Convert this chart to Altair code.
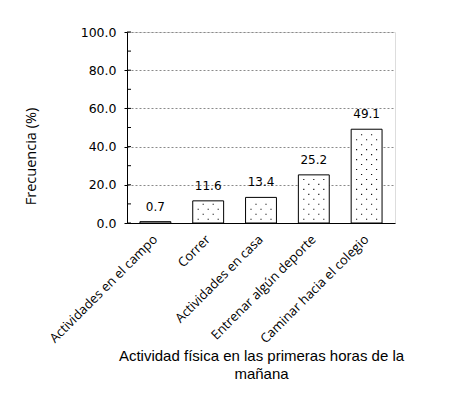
import altair as alt
import pandas as pd

categories = ["Actividades en el campo", "Correr", "Actividades en casa",
              "Entrenar algún deporte", "Caminar hacia el colegio"]
values = [0.7, 11.6, 13.4, 25.2, 49.1]
y_ticks = [0, 20, 40, 60, 80, 100]
inner_ticks = [0, 10, 20, 30, 40, 50, 60, 70, 80, 90, 100]

df = pd.DataFrame({"cat": categories, "value": values})
ticks_df = pd.DataFrame({"t": inner_ticks})

W, H = 268, 191

xscale = alt.Scale(paddingInner=0.415, paddingOuter=0.245)
xaxis = alt.Axis(title=["Actividad física en las primeras horas de la", "mañana"],
                 titleFont="Liberation Sans", titleFontSize=15, titleFontWeight="normal",
                 titleColor="black", titleX=134, titleY=125, titleBaseline="top",
                 titleLineHeight=18,
                 labelAngle=-45, labelAlign="right", labelBaseline="middle",
                 labelFont="Open Sans", labelFontSize=13, labelColor="black",
                 labelPadding=14, ticks=False, domainColor="black",
                 labelLimit=300)

yscale = alt.Scale(domain=[0, 100], nice=False)
yaxis = alt.Axis(title="Frecuencia (%)", values=y_ticks, format=".1f",
                 labelOverlap=False,
                 titleFont="Open Sans", titleFontSize=14.5, titleFontWeight="normal",
                 titleColor="black", titleX=-96, titleY=124, titleBaseline="middle",
                 labelFont="DejaVu Sans", labelFontSize=12.5, labelColor="black",
                 labelPadding=8, tickSize=3, tickColor="black", domainColor="black",
                 grid=True, gridColor="#8a8a8a", gridDash=[2, 2], gridWidth=1)

def X():
    return alt.X("cat:N", sort=categories, scale=xscale, axis=xaxis)

base = alt.Chart(df)

bars = base.mark_bar(fill="white", stroke="black", strokeWidth=1).encode(
    x=X(),
    y=alt.Y("value:Q", scale=yscale, axis=yaxis),
)

dots = base.transform_calculate(
    rows="sequence(2, datum.value - 1, 2.6)"
).transform_flatten(["rows"], as_=["row_y"]).transform_calculate(
    cols="(round((datum.row_y - 2) / 2.6) % 2 == 0) ? [-10, 0, 10] : [-5, 5]"
).transform_flatten(["cols"], as_=["col_x"]).mark_square(
    size=1.2, color="black", opacity=1, xOffset=alt.expr("datum.col_x")
).encode(
    x=X(),
    y=alt.Y("row_y:Q", scale=yscale, axis=yaxis),
)

labels = base.mark_text(baseline="bottom", dy=-8, font="DejaVu Sans",
                        fontSize=12, color="black").encode(
    x=X(),
    y=alt.Y("value:Q", scale=yscale, axis=yaxis),
    text=alt.Text("value:Q", format=".1f"),
)

inner = alt.Chart(ticks_df).mark_rule(color="black", strokeWidth=1).encode(
    y=alt.Y("t:Q", scale=yscale, axis=yaxis),
    x=alt.value(0),
    x2=alt.value(4),
)

chart = alt.layer(bars, dots, labels, inner).properties(
    width=W, height=H,
    autosize=alt.AutoSizeParams(type="none"),
    padding={"left": 119, "top": 24, "right": 46, "bottom": 163},
).configure_view(stroke=None).configure(background="white")

chart.save("out.html", embed_options={"renderer": "svg", "actions": False})
